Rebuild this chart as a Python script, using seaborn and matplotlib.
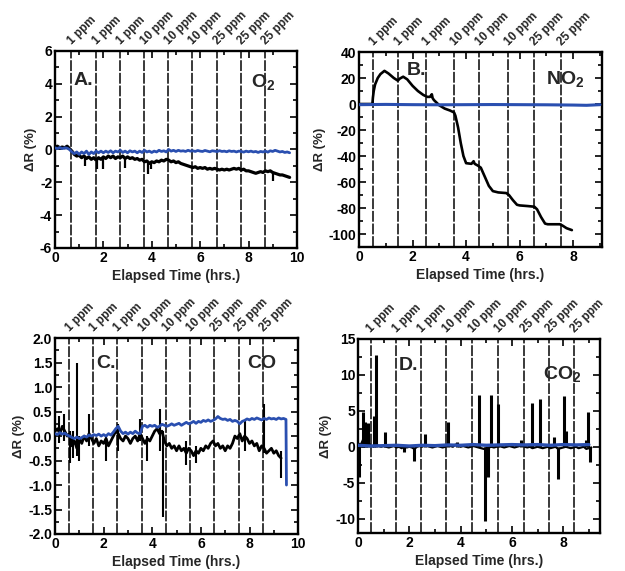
import numpy as np
import pandas as pd
import matplotlib
matplotlib.use("Agg")
import matplotlib.pyplot as plt
from matplotlib.ticker import MultipleLocator
import seaborn as sns

# ---- exposure marks (hrs) and their labels ----
ppm_labels_9 = ["1 ppm", "1 ppm", "1 ppm", "10 ppm", "10 ppm", "10 ppm", "25 ppm", "25 ppm", "25 ppm"]
ppm_labels_8 = ["1 ppm", "1 ppm", "1 ppm", "10 ppm", "10 ppm", "10 ppm", "25 ppm", "25 ppm"]
marks_a = [0.68, 1.68, 2.69, 3.68, 4.67, 5.67, 6.68, 7.69, 8.70]
marks_b = [0.52, 1.46, 2.52, 3.54, 4.49, 5.57, 6.53, 7.53]
marks_c = [0.59, 1.55, 2.57, 3.57, 4.56, 5.56, 6.55, 7.55, 8.54]
marks_d = [0.49, 1.50, 2.47, 3.45, 4.46, 5.46, 6.46, 7.45, 8.43]

# ---- panel A, O2 ----
time_a = np.round(np.arange(0, 9.75, 0.1), 2)
sensor_a = [0.15, 0.2, 0.1, 0.15, 0.1, 0.2, 0.05, -0.1, -0.3, -0.4,
            -0.35, -0.5, -0.4, -0.55, -0.45, -0.6, -0.5, -0.65, -0.5, -0.6,
            -0.45, -0.55, -0.4, -0.5, -0.4, -0.55, -0.45, -0.5, -0.4, -0.55,
            -0.45, -0.55, -0.5, -0.6, -0.55, -0.65, -0.6, -0.75, -0.7, -0.85,
            -0.75, -0.8, -0.7, -0.75, -0.65, -0.7, -0.6, -0.65, -0.75, -0.7,
            -0.8, -0.75, -0.85, -0.9, -0.95, -1.0, -1.05, -1.1, -1.05, -1.15,
            -1.1, -1.15, -1.1, -1.2, -1.15, -1.2, -1.15, -1.2, -1.25, -1.2,
            -1.25, -1.2, -1.25, -1.2, -1.15, -1.2, -1.15, -1.25, -1.2, -1.3,
            -1.3, -1.35, -1.4, -1.45, -1.4, -1.35, -1.4, -1.3, -1.35, -1.3,
            -1.4, -1.45, -1.5, -1.55, -1.55, -1.6, -1.65, -1.7]
control_a = [0.1, 0.05, 0.12, 0.05, 0.1, 0.08, 0.0, -0.15, -0.25, -0.15,
             -0.3, -0.15, -0.25, -0.1, -0.3, -0.15, -0.25, -0.1, -0.2, -0.1,
             -0.2, -0.1, -0.18, -0.08, -0.2, -0.1, -0.15, -0.05, -0.18, -0.1,
             -0.2, -0.08, -0.15, -0.1, -0.2, -0.1, -0.18, -0.05, -0.15, -0.1,
             -0.18, -0.1, -0.15, -0.05, -0.12, -0.08, -0.15, 0.0, -0.1, -0.05,
             -0.12, -0.05, -0.1, -0.08, -0.12, -0.05, -0.1, -0.08, -0.12, -0.06,
             -0.1, -0.12, -0.06, -0.1, -0.14, -0.08, -0.1, -0.13, -0.07, -0.12,
             -0.1, -0.14, -0.08, -0.12, -0.1, -0.15, -0.1, -0.12, -0.16, -0.1,
             -0.14, -0.1, -0.15, -0.12, -0.18, -0.12, -0.15, -0.1, -0.16, -0.08,
             -0.12, -0.05, -0.1, -0.15, -0.12, -0.18, -0.15, -0.2]
spike_t_a = [1.25, 1.75, 2.0, 2.9, 3.85, 3.95, 9.0]
spike_lo_a = [-1.0, -1.2, -1.2, -1.1, -1.5, -1.2, -1.9]
spike_hi_a = [-0.45, -0.55, -0.5, -0.5, -0.8, -0.8, -1.35]

# ---- panel B, NO2 ----
time_b = [0, 0.5, 0.52, 0.55, 0.6, 0.7, 0.8, 0.95, 1.1, 1.3,
          1.45, 1.52, 1.65, 1.8, 2.0, 2.2, 2.4, 2.55, 2.65, 2.72,
          2.75, 2.8, 3.0, 3.2, 3.4, 3.55, 3.6, 3.7, 3.8, 3.9,
          4.0, 4.2, 4.28, 4.32, 4.45, 4.55, 4.7, 4.85, 5.0, 5.2,
          5.5, 5.6, 5.75, 5.9, 6.0, 6.3, 6.55, 6.65, 6.8, 6.95,
          7.05, 7.5, 7.6, 7.75, 7.95]
sensor_b = [0, 0, 5, 10, 15, 20, 23, 25.5, 23.5, 20,
            18, 19.5, 21, 19, 14, 10, 7, 5.5, 5.5, 7.5,
            4.5, 3, -1, -3.5, -5, -6.5, -9, -18, -30, -40,
            -45.5, -46, -44, -46, -47.5, -49, -56, -63, -67, -68,
            -68.5, -70, -74, -77.5, -78, -78.5, -79, -81, -87, -92,
            -92.5, -92.5, -93.5, -95.5, -97]
control_t_b = [0, 1, 2, 3, 4, 5, 6, 7, 8, 8.5, 9.0]
control_b = [-0.5, -0.3, -0.5, -0.6, -0.5, -0.4, -0.5, -0.6, -0.8, -1.0, -0.5]

# ---- panel C, CO ----
time_c = np.round(np.arange(0, 9.35, 0.1), 2)
sensor_c = [0.1, 0.15, 0.05, 0.2, 0.1, 0.0, 0.05, -0.2, -0.1, -0.25,
            -0.05, -0.15, 0.0, -0.1, 0.05, -0.05, -0.15, -0.05, -0.2, -0.1,
            -0.15, -0.05, -0.2, -0.1, 0.0, 0.1, 0.05, -0.05, -0.1, 0.0,
            -0.05, -0.15, -0.05, 0.0, -0.1, 0.05, -0.05, -0.15, -0.05, -0.1,
            0.0, 0.1, 0.15, 0.05, 0.1, -0.1, -0.2, -0.15, -0.25, -0.2,
            -0.3, -0.2, -0.3, -0.25, -0.35, -0.25, -0.3, -0.4, -0.3, -0.35,
            -0.25, -0.3, -0.2, -0.25, -0.15, -0.1, -0.2, -0.15, -0.25, -0.2,
            -0.3, -0.2, -0.25, -0.15, 0.0, -0.05, 0.05, -0.1, 0.0, -0.05,
            -0.15, -0.1, -0.2, -0.15, -0.3, -0.2, -0.25, -0.35, -0.3, -0.25,
            -0.35, -0.3, -0.4, -0.45]
control_t_c = list(np.round(np.arange(0, 9.55, 0.1), 2)) + [9.52]
control_c = [0.05, 0.03, 0.07, 0.04, 0.06, 0.02, 0.0, -0.03, -0.05, -0.02,
             -0.05, -0.03, 0.0, -0.02, 0.02, 0.0, 0.03, 0.01, 0.04, 0.0,
             0.03, 0.0, 0.05, 0.02, 0.08, 0.15, 0.2, 0.1, 0.05, 0.08,
             0.04, 0.08, 0.05, 0.1, 0.06, 0.05, 0.2, 0.22, 0.18, 0.22,
             0.2, 0.22, 0.18, 0.2, 0.24, 0.22, 0.2, 0.22, 0.25, 0.22,
             0.24, 0.26, 0.22, 0.25, 0.28, 0.25, 0.27, 0.3, 0.26, 0.3,
             0.28, 0.32, 0.3, 0.33, 0.3, 0.32, 0.35, 0.4, 0.36, 0.34,
             0.35, 0.32, 0.34, 0.3, 0.32, 0.3, 0.25, 0.3, 0.32, 0.35,
             0.33, 0.36, 0.34, 0.37, 0.35, 0.33, 0.36, 0.34, 0.37, 0.35,
             0.36, 0.34, 0.37, 0.35, 0.36, 0.34, -1.0]
spike_t_c = [0.15, 0.35, 0.6, 0.75, 0.9, 1.0, 1.4, 2.1, 2.6, 3.5, 3.8, 4.3, 4.45, 5.4, 5.8, 7.8, 8.6, 9.3]
spike_lo_c = [-0.15, -0.1, -0.55, -0.45, -0.4, -0.5, -0.2, -0.5, -0.3, -0.1, -0.5, -0.3, -1.65, -0.6, -0.55, -0.3, -0.35, -0.85]
spike_hi_c = [0.4, 0.45, 0.1, 0.1, 1.5, 0.0, 0.45, 0.0, 0.25, 0.35, 0.0, 0.55, 0.1, -0.1, -0.2, 0.3, 0.65, -0.3]

# ---- panel D, CO2 ----
time_d = np.round(np.arange(0, 9.15, 0.1), 2)
sensor_d = [0.5, 0.2, 1.0, 0.8, 0.5, 0.2, 0.0, 0.3, 0.1, 0.0,
            0.1, 0.0, -0.1, 0.0, 0.1, -0.1, 0.0, -0.2, 0.0, -0.1,
            0.0, -0.1, -0.3, 0.0, 0.1, 0.0, 0.2, 0.1, 0.0, -0.1,
            0.0, 0.1, 0.0, -0.1, 0.0, 0.2, 0.1, 0.0, 0.3, 0.1,
            0.0, 0.1, 0.0, -0.1, 0.0, 0.1, 0.0, -0.1, -0.2, -0.3,
            -0.2, -0.1, 0.0, -0.1, 0.0, 0.1, 0.0, -0.1, 0.0, 0.1,
            0.0, -0.1, 0.0, 0.1, 0.2, 0.0, -0.1, 0.0, -0.2, -0.1,
            0.0, -0.1, -0.2, -0.1, 0.0, -0.2, -0.1, 0.0, -0.3, -0.2,
            -0.1, 0.0, -0.1, -0.2, -0.1, 0.0, -0.2, -0.1, 0.0, -0.3,
            -0.2, -0.1]
control_t_d = [0, 0.5, 1, 1.5, 2, 2.5, 3, 3.5, 4, 4.5, 5, 5.5, 6, 6.5, 7, 7.5, 8, 8.5, 9.0]
control_d = [0.2, 0.1, 0.15, 0.2, 0.1, 0.2, 0.15, 0.25, 0.2, 0.3, 0.2, 0.25, 0.3, 0.25, 0.3, 0.2, 0.3, 0.25, 0.3]
spike_t_d = [0.02, 0.2, 0.28, 0.33, 0.4, 0.62, 0.72, 1.05, 1.8, 2.2, 2.6, 3.5, 3.85, 4.7,
             4.95, 5.05, 5.2, 5.45, 6.35, 6.8, 7.1, 7.65, 7.8, 8.05, 8.12, 8.9, 8.95, 9.05]
spike_lo_d = [-4.2, 0, 0, 0, 0, 0, 0, 0, -0.8, -2.0, 0, 0, 0, 0,
              -10.3, -4.2, 0, 0, 0, 0, 0, 0, -4.5, 0, 0, 0, 0, -2.1]
spike_hi_d = [0.5, 4.8, 3.5, 2.6, 3.3, 4.3, 12.8, 2.0, 0, 0, 1.8, 3.5, 0.7, 7.2,
              0, 0, 7.2, 5.9, 0.9, 6.1, 6.7, 1.3, 0, 7.1, 2.2, 1.0, 4.8, 0]

BLUE = "#2a4fb0"

sns.set_theme(style="ticks")
plt.rcParams["font.family"] = ["Liberation Sans", "DejaVu Sans"]
plt.rcParams["font.weight"] = "bold"
plt.rcParams["axes.labelweight"] = "bold"
plt.rcParams["axes.unicode_minus"] = False
plt.rcParams["mathtext.fontset"] = "custom"
plt.rcParams["mathtext.rm"] = "Liberation Sans:bold"
plt.rcParams["mathtext.bf"] = "Liberation Sans:bold"
plt.rcParams["mathtext.default"] = "bf"


def style_axis(ax, xlim, ylim, xmaj, xmin, ymaj, ymin):
    ax.set_xlim(*xlim)
    ax.set_ylim(*ylim)
    ax.xaxis.set_major_locator(MultipleLocator(xmaj))
    ax.xaxis.set_minor_locator(MultipleLocator(xmin))
    ax.yaxis.set_major_locator(MultipleLocator(ymaj))
    ax.yaxis.set_minor_locator(MultipleLocator(ymin))
    ax.tick_params(which="both", direction="in", top=True, right=True,
                   width=1.2, labelsize=10, pad=2, colors="black")
    ax.tick_params(which="major", length=5)
    ax.tick_params(which="minor", length=3)
    for s in ax.spines.values():
        s.set_linewidth(1.7)
        s.set_color("black")
    ax.set_xlabel("Elapsed Time (hrs.)", fontsize=10, labelpad=3)
    ax.set_ylabel("ΔR (%)", fontsize=9.5, labelpad=2)


def add_marks(ax, marks, labels):
    for x, lab in zip(marks, labels):
        ax.axvline(x, color="#2a2a2a", lw=1.3, dashes=(6, 1), zorder=1)
        ax.annotate(lab, xy=(x, 1.0), xycoords=("data", "axes fraction"),
                    xytext=(-4, 3), textcoords="offset points", rotation=45,
                    ha="left", va="bottom", fontsize=8.5, fontweight="bold")


def draw_trace(ax, t, v, color, lw):
    df = pd.DataFrame({"t": t, "v": v})
    sns.lineplot(data=df, x="t", y="v", ax=ax, color=color, lw=lw,
                 estimator=None, sort=False, zorder=3)


fig = plt.figure(figsize=(6.25, 5.71), dpi=100)
ax_a = fig.add_axes([0.088, 0.5657, 0.387, 0.345])
ax_b = fig.add_axes([0.5744, 0.5674, 0.389, 0.3415])
ax_c = fig.add_axes([0.088, 0.0648, 0.389, 0.343])
ax_d = fig.add_axes([0.5728, 0.0665, 0.387, 0.340])

# A
add_marks(ax_a, marks_a, ppm_labels_9)
draw_trace(ax_a, time_a, sensor_a, "black", 2.3)
ax_a.vlines(spike_t_a, spike_lo_a, spike_hi_a, color="black", lw=1.6, zorder=3)
draw_trace(ax_a, time_a, control_a, BLUE, 2.0)
style_axis(ax_a, (0, 10), (-6, 6), 2, 1, 2, 1)
ax_a.text(0.075, 0.85, "A.", transform=ax_a.transAxes, fontsize=14, va="center")
ax_a.text(0.81, 0.845, r"O$_{2}$", transform=ax_a.transAxes, fontsize=14, va="center")

# B
add_marks(ax_b, marks_b, ppm_labels_8)
draw_trace(ax_b, time_b, sensor_b, "black", 1.9)
draw_trace(ax_b, control_t_b, control_b, BLUE, 2.2)
style_axis(ax_b, (0, 9.08), (-110, 40), 2, 1, 20, 10)
ax_b.text(0.195, 0.905, "B.", transform=ax_b.transAxes, fontsize=14, va="center")
ax_b.text(0.77, 0.86, r"NO$_{2}$", transform=ax_b.transAxes, fontsize=14, va="center")

# C
add_marks(ax_c, marks_c, ppm_labels_9)
draw_trace(ax_c, time_c, sensor_c, "black", 2.0)
ax_c.vlines(spike_t_c, spike_lo_c, spike_hi_c, color="black", lw=1.5, zorder=3)
draw_trace(ax_c, control_t_c, control_c, BLUE, 2.0)
style_axis(ax_c, (0, 10), (-2, 2), 2, 1, 0.5, 0.25)
ax_c.text(0.17, 0.87, "C.", transform=ax_c.transAxes, fontsize=14, va="center")
ax_c.text(0.79, 0.87, "CO", transform=ax_c.transAxes, fontsize=14, va="center")

# D
add_marks(ax_d, marks_d, ppm_labels_9)
draw_trace(ax_d, time_d, sensor_d, "black", 1.6)
ax_d.vlines(spike_t_d, spike_lo_d, spike_hi_d, color="black", lw=2.2, zorder=3)
draw_trace(ax_d, control_t_d, control_d, BLUE, 2.4)
style_axis(ax_d, (0, 9.43), (-12, 15), 2, 1, 5, 2.5)
ax_d.text(0.17, 0.865, "D.", transform=ax_d.transAxes, fontsize=14, va="center")
ax_d.text(0.765, 0.82, r"CO$_{2}$", transform=ax_d.transAxes, fontsize=14, va="center")

fig.savefig("out.png", dpi=100)
plt.close(fig)
